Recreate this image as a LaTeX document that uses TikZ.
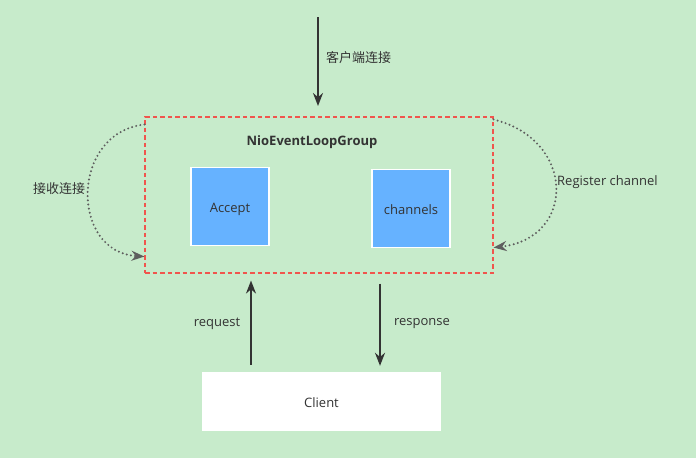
\documentclass[tikz,border=0pt]{standalone}
\usepackage{fontspec}
\setmainfont{Open Sans}
\newfontfamily\cjk{Noto Sans CJK SC}
\usetikzlibrary{arrows.meta, positioning}

\definecolor{bg}{HTML}{C7EBCB}
\definecolor{boxblue}{HTML}{66B2FF}
\definecolor{dashred}{HTML}{F0554D}
\definecolor{ink}{HTML}{333333}
\definecolor{dotgray}{HTML}{5E5E5E}

\begin{document}
\begin{tikzpicture}[x = 1pt, y = -1pt, % pixel grid, y going down
        > = {Stealth[length=13pt, width=10pt]}, % arrow head style
        every node/.style = {font = \fontsize{13}{15}\selectfont, text = ink},
        groupbox/.style = {draw = dashred, color = dashred,
            dash pattern = on 4.5pt off 3pt, line width = 1.1pt,
            minimum width = 348pt, minimum height = 156pt},
        inner/.style = {draw = white, line width = 1.5pt, fill = boxblue,
            minimum size = 78pt, text height = 12pt, text depth = 0pt},
        client/.style = {fill = white, minimum width = 239pt,
            minimum height = 59pt, text height = 12pt, text depth = 0pt},
        flow/.style = {->, draw = ink, line width = 2pt},
        dotloop/.style = {->, draw = dotgray, line width = 2.2pt,
            dash pattern = on 0pt off 4.2pt, line cap = round},
        lbl/.style = {inner sep = 1pt}
    ]

    \fill[bg] (0,0) rectangle (696,458);
    \useasboundingbox (0,0) rectangle (696,458);

    \node[groupbox] (group) at (319,195) {};
    \node[lbl, font = \fontsize{13}{15}\selectfont\bfseries] (title) at (312,142) {NioEventLoopGroup};

    \node[inner] (accept) at (230,206.5) {Accept};
    \node[inner] (channels) at (411,208.5) {channels};

    \node[client] (client) at (321.5,401.5) {Client};

    % incoming connection
    \coordinate (in) at (318,17);
    \coordinate (inend) at (318,106);
    \draw[flow] (in) -- (inend);
    \node[lbl, anchor = west] (inlbl) at (325,58) {\cjk 客户端连接};

    % request / response
    \coordinate (req) at (251,0);
    \coordinate (res) at (380,0);
    \draw[flow, shorten <= 7pt, shorten >= 7pt] (client.north -| req) -- (group.south -| req);
    \draw[flow, shorten <= 10pt, shorten >= 6pt] (group.south -| res) -- (client.north -| res);
    \node[lbl] (reqlbl) at (217,324) {request};
    \node[lbl] (reslbl) at (422,324) {response};

    % loops
    \coordinate (la) at ([yshift=-8pt]group.north west);
    \coordinate (lb) at ([yshift=17pt]group.south west);
    \draw[dotloop] (la) .. controls (70,133) and (70,252) .. (lb);
    \node[lbl] (llbl) at (59,189) {\cjk 接收连接};

    \coordinate (ra) at ([yshift=-3pt]group.north east);
    \coordinate (rb) at ([yshift=26pt]group.south east);
    \draw[dotloop] (ra) .. controls (576,140) and (576,238) .. (rb);
    \node[lbl, anchor = west] (rlbl) at (556,182) {Register channel};

\end{tikzpicture}
\end{document}
